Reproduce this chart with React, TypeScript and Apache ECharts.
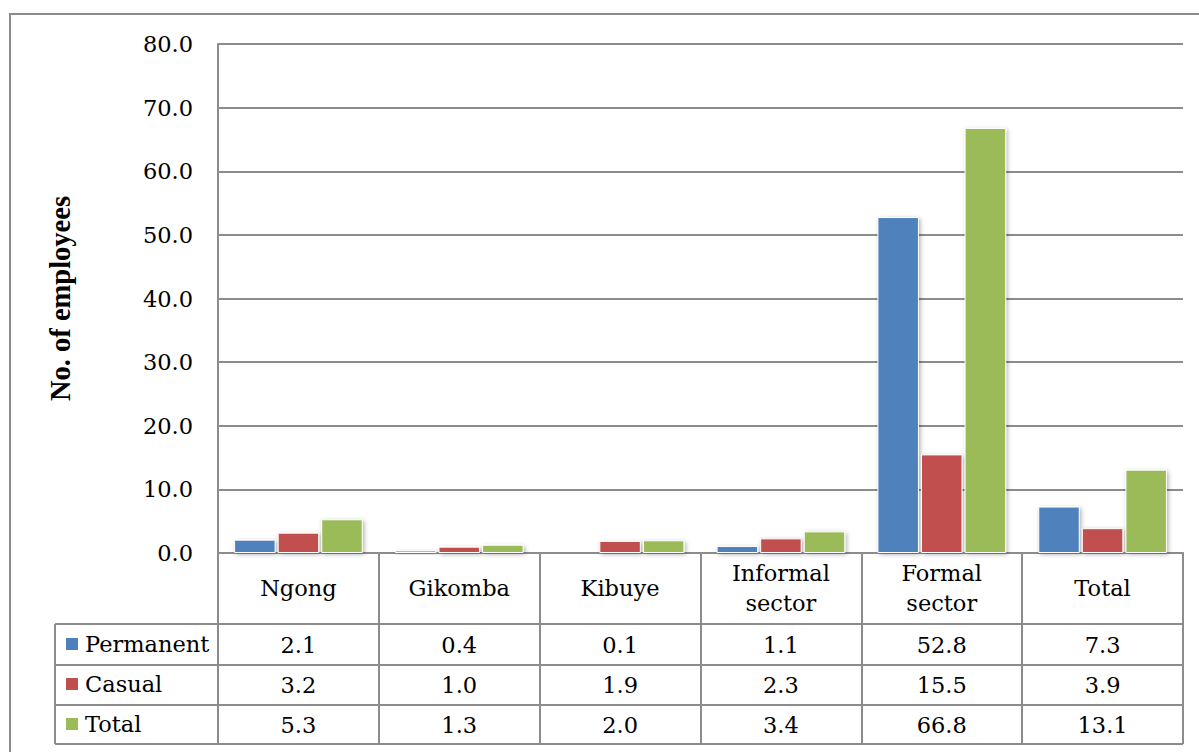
import React, { useEffect, useRef } from "react";
import * as echarts from "echarts";

const categories = ["Ngong", "Gikomba", "Kibuye", "Informal\nsector", "Formal\nsector", "Total"];
const seriesNames = ["Permanent", "Casual", "Total"];
const permanent = [2.1, 0.4, 0.1, 1.1, 52.8, 7.3];
const casual = [3.2, 1.0, 1.9, 2.3, 15.5, 3.9];
const total = [5.3, 1.3, 2.0, 3.4, 66.8, 13.1];
const colors = ["#4F81BD", "#C0504D", "#9BBB59"];
const yTitle = "No. of employees";

const FONT = "DejaVu Serif";
const FS = 22.5;
const GRID_LEFT = 218;
const GRID_RIGHT = 1183;
const GRID_TOP = 44;
const GRID_BOTTOM_Y = 553;
const LINE = "#8c8c8c";
const ROW_OFFSETS = [71, 112, 152];
const ROW_H = [41, 40, 39];
const TABLE_BOTTOM = 744;
const TABLE_LEFT = 55;

export default function App() {
  const ref = useRef<HTMLDivElement>(null);
  useEffect(() => {
    if (!ref.current) return;
    const chart = echarts.init(ref.current, undefined, { renderer: "svg" });
    const values = [permanent, casual, total];
    const textStyle = { fontFamily: FONT, fontSize: FS, color: "#000" };

    const rowAxes = values.map((vals, i) => ({
      type: "category",
      gridIndex: 0,
      position: "bottom",
      offset: ROW_OFFSETS[i],
      data: vals.map((v) => v.toFixed(1)),
      axisLine: { show: true, lineStyle: { color: LINE, width: 2 } },
      axisTick: { show: true, length: ROW_H[i], lineStyle: { color: LINE, width: 2 } },
      axisLabel: {
        interval: 0,
        margin: ROW_H[i] / 2,
        verticalAlign: "middle",
        ...textStyle,
      },
      splitLine: { show: false },
    }));

    const option: any = {
      animation: false,
      color: colors,
      textStyle: { fontFamily: FONT },
      grid: {
        left: GRID_LEFT,
        right: 1199 - GRID_RIGHT,
        top: GRID_TOP,
        bottom: 752 - GRID_BOTTOM_Y,
        containLabel: false,
      },
      legend: {
        orient: "vertical",
        left: 66,
        top: 632,
        padding: 0,
        itemGap: 16,
        itemWidth: 12,
        itemHeight: 12,
        icon: "rect",
        data: seriesNames,
        itemStyle: { borderWidth: 0, shadowBlur: 0, shadowOffsetX: 0, shadowOffsetY: 0 },
        textStyle: { ...textStyle, lineHeight: 24, padding: [0, 0, 0, 2] },
        selectedMode: false,
      },
      xAxis: [
        {
          type: "category",
          position: "bottom",
          data: categories,
          axisLine: { show: true, lineStyle: { color: LINE, width: 2 } },
          axisTick: { show: true, length: 71, lineStyle: { color: LINE, width: 2 } },
          axisLabel: {
            interval: 0,
            margin: 35,
            verticalAlign: "middle",
            lineHeight: 30,
            ...textStyle,
          },
        },
        ...rowAxes,
      ],
      yAxis: {
        type: "value",
        min: 0,
        max: 80,
        interval: 10,
        name: yTitle,
        nameLocation: "middle",
        nameGap: 143,
        nameTextStyle: {
          fontFamily: "Liberation Serif",
          fontWeight: "bold",
          fontSize: 28.5,
          color: "#000",
        },
        axisLine: { show: true, lineStyle: { color: LINE, width: 2 } },
        axisTick: { show: false },
        axisLabel: {
          margin: 25,
          formatter: (v: number) => v.toFixed(1),
          ...textStyle,
        },
        splitLine: { show: true, lineStyle: { color: LINE, width: 2 } },
      },
      series: values.map((vals, i) => ({
        name: seriesNames[i],
        type: "bar",
        xAxisIndex: 0,
        data: vals,
        barGap: "5%",
        barCategoryGap: "20%",
        itemStyle: {
          color: colors[i],
          borderColor: "#ffffff",
          borderWidth: 1,
          shadowBlur: 4,
          shadowColor: "rgba(0,0,0,0.3)",
          shadowOffsetX: 1.5,
          shadowOffsetY: 1.5,
        },
      })),
      graphic: [
        {
          type: "rect",
          shape: { x: 10, y: 14, width: 1400, height: 1000 },
          style: { fill: "none", stroke: LINE, lineWidth: 2 },
          silent: true,
          z: -1,
        },
        {
          type: "line",
          shape: { x1: TABLE_LEFT, y1: GRID_BOTTOM_Y + ROW_OFFSETS[0], x2: TABLE_LEFT, y2: TABLE_BOTTOM },
          style: { stroke: LINE, lineWidth: 2 },
          silent: true,
        },
        ...ROW_OFFSETS.map((o) => ({
          type: "line",
          shape: { x1: TABLE_LEFT, y1: GRID_BOTTOM_Y + o, x2: GRID_LEFT, y2: GRID_BOTTOM_Y + o },
          style: { stroke: LINE, lineWidth: 2 },
          silent: true,
        })),
        {
          type: "line",
          shape: { x1: TABLE_LEFT, y1: TABLE_BOTTOM, x2: GRID_RIGHT, y2: TABLE_BOTTOM },
          style: { stroke: LINE, lineWidth: 2 },
          silent: true,
        },
      ],
    };
    chart.setOption(option);
    return () => chart.dispose();
  }, []);
  return (
    <div
      ref={ref}
      style={{ position: "fixed", left: 0, top: 0, width: 1199, height: 752, background: "#fff" }}
    />
  );
}
